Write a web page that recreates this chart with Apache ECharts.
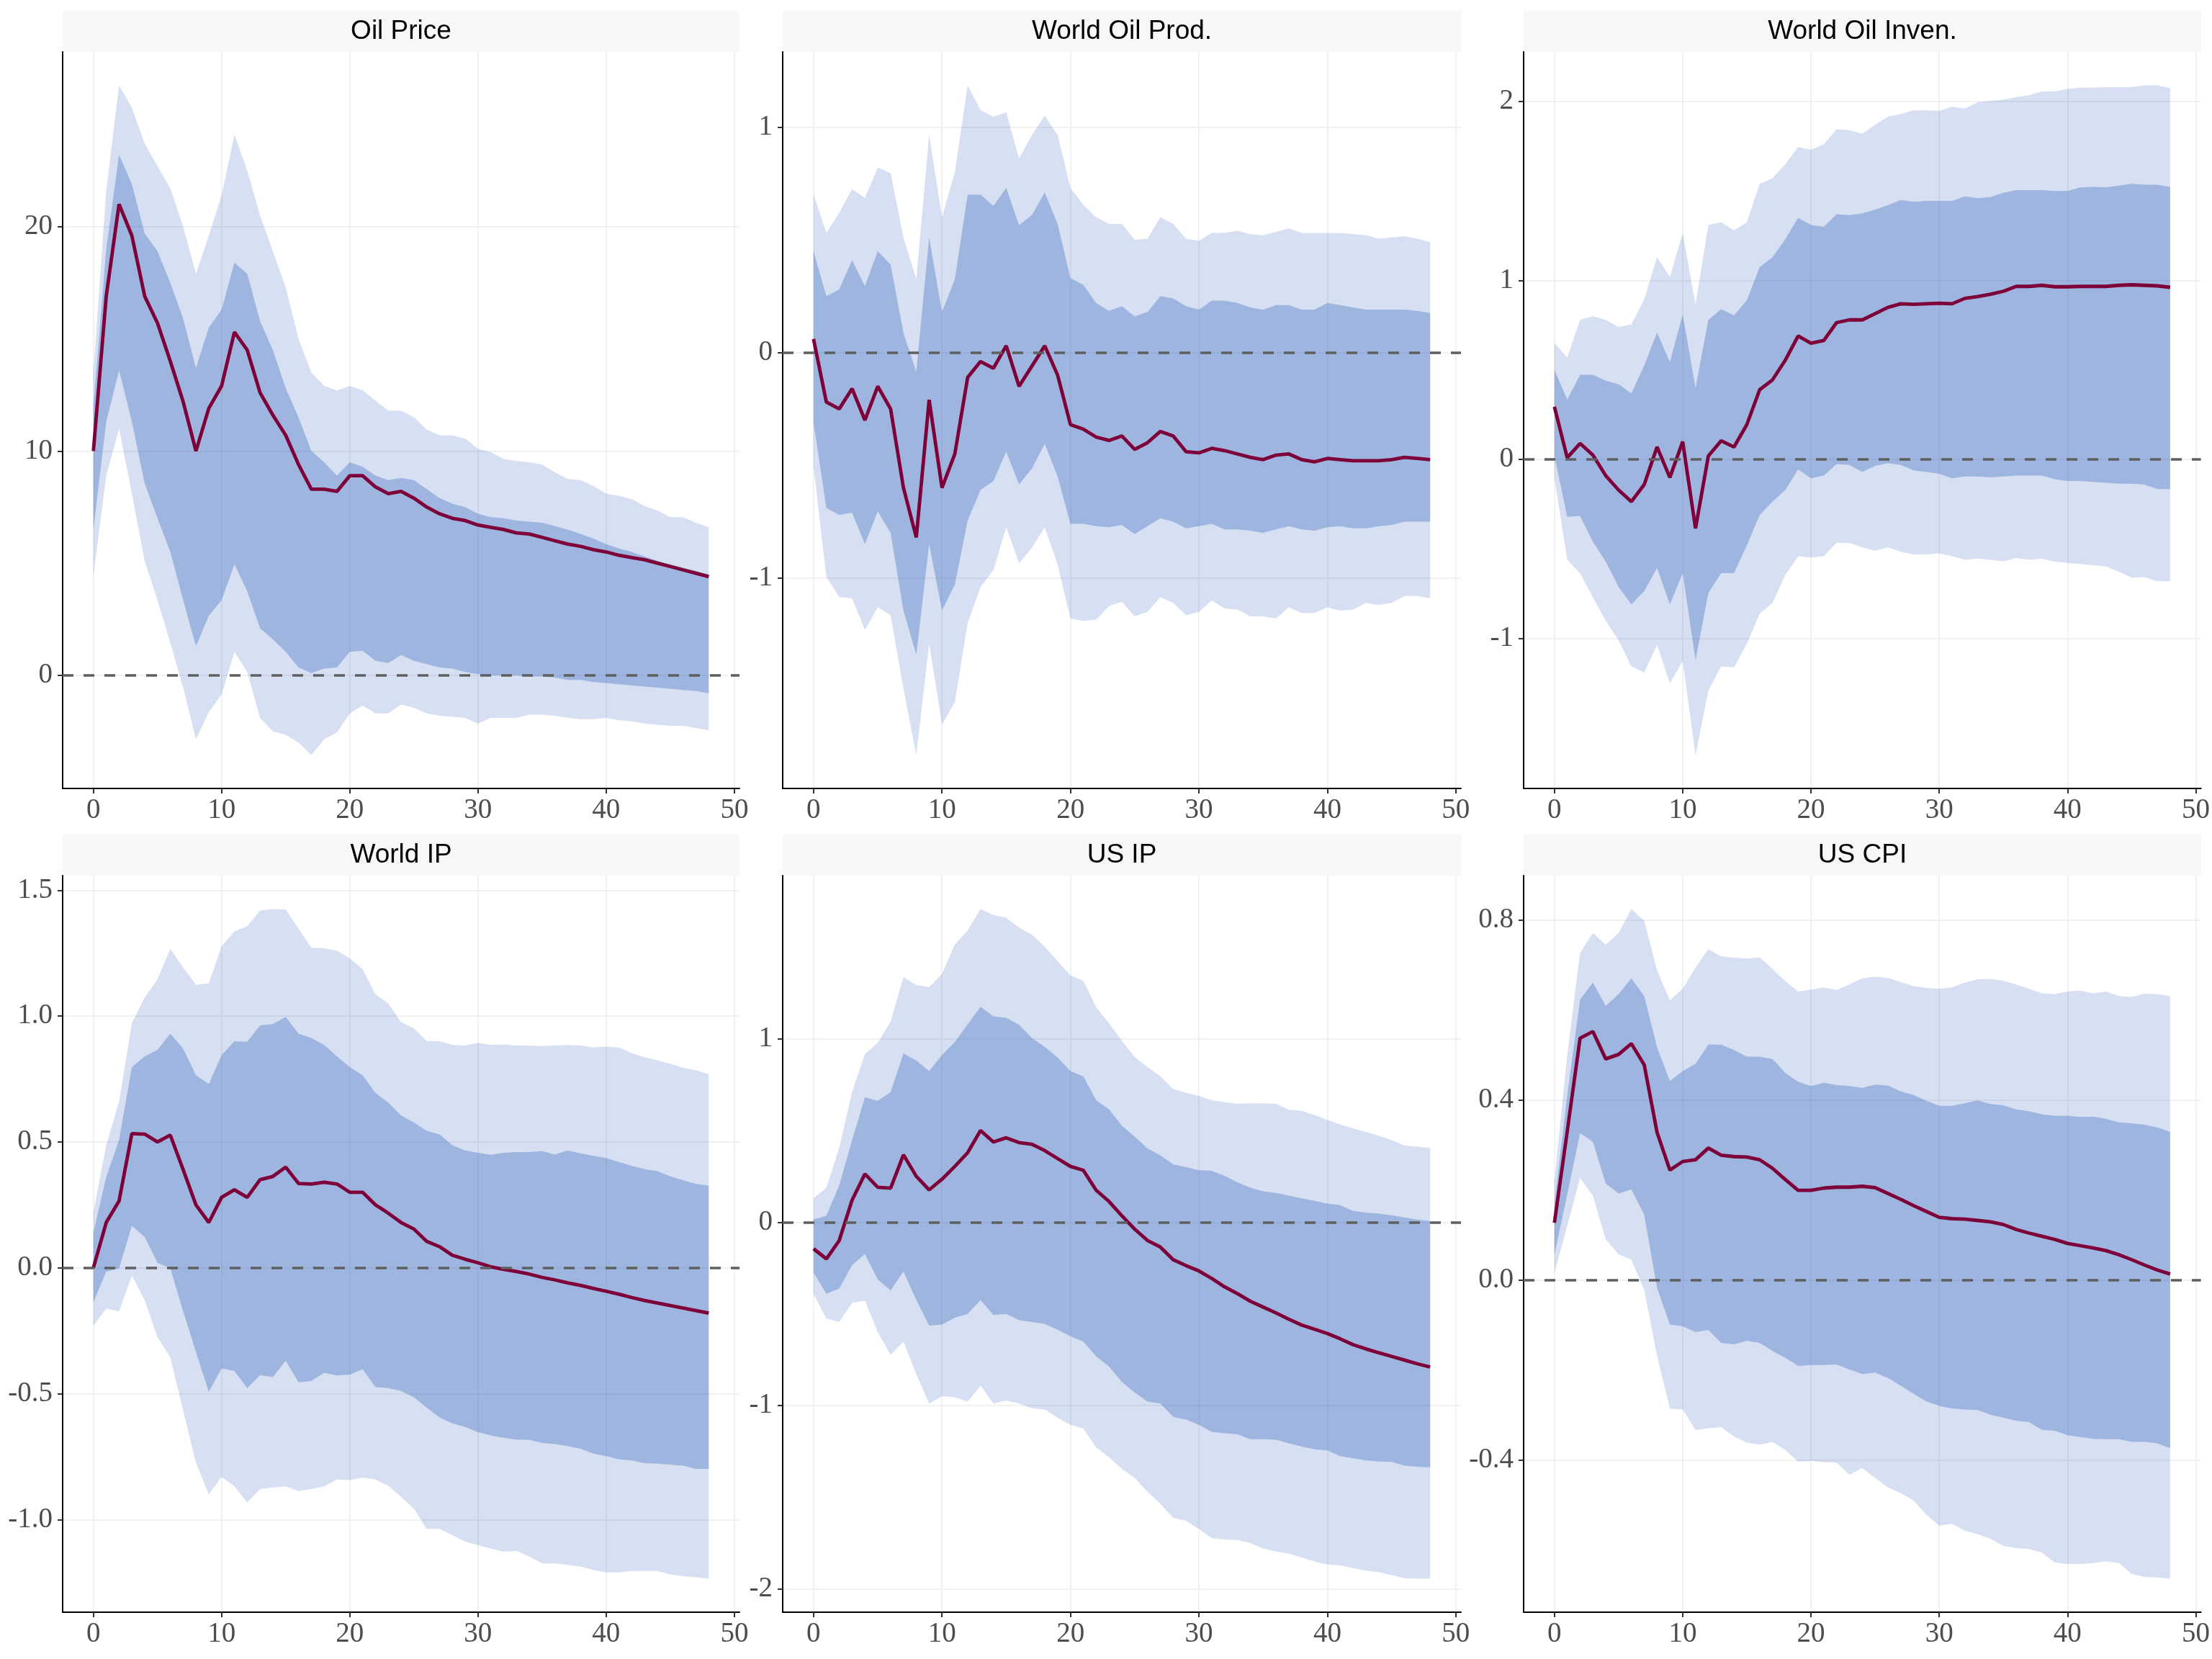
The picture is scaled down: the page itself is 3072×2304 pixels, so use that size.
<!DOCTYPE html>
<html><head><meta charset="utf-8">
<script src="https://cdn.jsdelivr.net/npm/echarts@6/dist/echarts.min.js"></script>
<style>html,body{margin:0;padding:0;background:#fff}#c{width:3072px;height:2304px}</style>
</head><body><div id="c"></div>
<script>
const horizons = [0,1,2,3,4,5,6,7,8,9,10,11,12,13,14,15,16,17,18,19,20,21,22,23,24,25,26,27,28,29,30,31,32,33,34,35,36,37,38,39,40,41,42,43,44,45,46,47,48];
const xTicks = [0,10,20,30,40,50];
const titles = ['Oil Price','World Oil Prod.','World Oil Inven.','World IP','US IP','US CPI'];

// Oil Price
const oilPriceMed = [10.0,16.9,21.0,19.6,16.9,15.7,14.0,12.2,10.0,11.9,
12.9,15.3,14.5,12.6,11.6,10.7,9.4,8.3,8.3,8.2,
8.9,8.9,8.4,8.1,8.2,7.9,7.5,7.2,7.0,6.9,
6.7,6.6,6.5,6.35,6.3,6.15,6.0,5.85,5.75,5.6,
5.5,5.35,5.25,5.15,5.0,4.85,4.7,4.55,4.4];
const oilPriceInHi = [12.0,19.0,23.2,21.9,19.7,18.9,17.5,15.9,13.7,15.5,
16.3,18.4,17.9,15.8,14.5,12.8,11.5,10.0,9.5,8.9,
9.5,9.3,8.9,8.7,8.8,8.7,8.3,7.9,7.65,7.5,
7.2,7.05,7.0,6.9,6.85,6.8,6.65,6.5,6.3,6.1,
5.85,5.65,5.5,5.3,5.1,4.95,4.8,4.65,4.5];
const oilPriceInLo = [6.5,11.3,13.6,11.3,8.55,7.0,5.5,3.35,1.3,2.65,
3.35,4.95,3.75,2.1,1.6,1.05,0.35,0.1,0.3,0.35,
1.05,1.1,0.65,0.55,0.9,0.65,0.5,0.35,0.3,0.15,
0.05,0.0,0.0,0.0,-0.05,-0.05,-0.1,-0.2,-0.2,-0.3,
-0.35,-0.4,-0.45,-0.5,-0.55,-0.6,-0.65,-0.7,-0.8];
const oilPriceOutHi = [13.5,21.6,26.3,25.3,23.7,22.7,21.7,20.0,17.9,19.6,
21.4,24.1,22.5,20.5,18.9,17.3,15.0,13.5,12.9,12.7,
12.9,12.7,12.25,11.8,11.8,11.5,10.95,10.7,10.7,10.55,
10.1,9.95,9.65,9.55,9.5,9.4,9.05,8.75,8.7,8.45,
8.1,8.0,7.85,7.55,7.35,7.05,7.05,6.8,6.6];
const oilPriceOutLo = [4.45,8.9,11.0,8.1,5.1,3.35,1.45,-0.55,-2.85,-1.65,
-0.85,1.05,0.15,-1.9,-2.5,-2.65,-3.0,-3.55,-2.85,-2.55,
-1.7,-1.35,-1.7,-1.7,-1.3,-1.45,-1.7,-1.8,-1.85,-1.9,
-2.15,-1.9,-1.9,-1.9,-1.75,-1.75,-1.8,-1.9,-1.95,-1.95,
-1.9,-2.0,-2.05,-2.15,-2.2,-2.25,-2.25,-2.35,-2.45];

// World Oil Prod.
const oilProdMed = [0.06,-0.22,-0.25,-0.16,-0.30,-0.15,-0.25,-0.60,-0.82,-0.21,
-0.60,-0.45,-0.11,-0.04,-0.07,0.03,-0.15,-0.06,0.03,-0.10,
-0.32,-0.34,-0.375,-0.39,-0.37,-0.43,-0.40,-0.35,-0.37,-0.44,
-0.445,-0.425,-0.435,-0.45,-0.465,-0.475,-0.455,-0.45,-0.475,-0.485,
-0.47,-0.475,-0.48,-0.48,-0.48,-0.475,-0.465,-0.47,-0.475];
const oilProdInHi = [0.45,0.25,0.28,0.41,0.295,0.45,0.39,0.087,-0.085,0.51,
0.18,0.325,0.70,0.70,0.65,0.73,0.565,0.61,0.71,0.57,
0.33,0.30,0.22,0.185,0.205,0.16,0.18,0.25,0.24,0.205,
0.19,0.23,0.23,0.22,0.20,0.19,0.21,0.21,0.19,0.19,
0.22,0.21,0.20,0.19,0.19,0.19,0.19,0.185,0.175];
const oilProdInLo = [-0.31,-0.69,-0.72,-0.71,-0.85,-0.705,-0.80,-1.145,-1.34,-0.85,
-1.145,-1.03,-0.745,-0.61,-0.57,-0.44,-0.585,-0.515,-0.405,-0.55,
-0.76,-0.76,-0.77,-0.775,-0.765,-0.805,-0.77,-0.735,-0.75,-0.78,
-0.77,-0.76,-0.785,-0.785,-0.79,-0.80,-0.785,-0.77,-0.785,-0.79,
-0.775,-0.77,-0.78,-0.78,-0.77,-0.765,-0.75,-0.75,-0.75];
const oilProdOutHi = [0.70,0.53,0.62,0.725,0.685,0.82,0.795,0.51,0.325,0.965,
0.60,0.80,1.185,1.075,1.045,1.065,0.86,0.965,1.05,0.965,
0.73,0.655,0.60,0.57,0.57,0.50,0.505,0.60,0.57,0.505,
0.495,0.53,0.53,0.54,0.525,0.52,0.535,0.55,0.53,0.53,
0.53,0.53,0.525,0.52,0.505,0.51,0.515,0.505,0.49];
const oilProdOutLo = [-0.505,-0.995,-1.085,-1.09,-1.23,-1.13,-1.165,-1.49,-1.785,-1.29,
-1.65,-1.55,-1.20,-1.04,-0.965,-0.775,-0.935,-0.865,-0.775,-0.94,
-1.18,-1.19,-1.185,-1.125,-1.105,-1.17,-1.15,-1.085,-1.11,-1.165,
-1.15,-1.10,-1.135,-1.14,-1.17,-1.17,-1.18,-1.13,-1.155,-1.155,
-1.13,-1.145,-1.14,-1.11,-1.12,-1.11,-1.08,-1.08,-1.09];

// World Oil Inven.
const oilInvMed = [0.295,0.01,0.09,0.025,-0.09,-0.17,-0.235,-0.14,0.07,-0.10,
0.10,-0.385,0.02,0.105,0.07,0.195,0.39,0.445,0.555,0.69,
0.65,0.665,0.765,0.78,0.78,0.815,0.85,0.87,0.867,0.87,
0.873,0.87,0.90,0.91,0.923,0.94,0.967,0.967,0.973,0.965,
0.965,0.967,0.967,0.967,0.973,0.976,0.973,0.97,0.962];
const oilInvInHi = [0.50,0.335,0.473,0.473,0.44,0.42,0.37,0.525,0.71,0.545,
0.81,0.40,0.78,0.84,0.805,0.89,1.075,1.13,1.23,1.35,
1.31,1.30,1.37,1.365,1.375,1.395,1.42,1.45,1.44,1.445,
1.445,1.445,1.47,1.46,1.467,1.49,1.505,1.505,1.505,1.50,
1.50,1.52,1.523,1.52,1.53,1.54,1.535,1.535,1.523];
const oilInvInLo = [0.02,-0.32,-0.315,-0.46,-0.57,-0.71,-0.81,-0.735,-0.605,-0.81,
-0.635,-1.12,-0.745,-0.635,-0.635,-0.48,-0.31,-0.235,-0.17,-0.055,
-0.105,-0.09,-0.025,-0.03,-0.07,-0.035,-0.02,-0.03,-0.06,-0.07,
-0.08,-0.105,-0.095,-0.095,-0.10,-0.095,-0.09,-0.09,-0.09,-0.11,
-0.12,-0.12,-0.125,-0.13,-0.135,-0.135,-0.14,-0.165,-0.165];
const oilInvOutHi = [0.65,0.57,0.78,0.80,0.78,0.74,0.755,0.895,1.13,1.02,
1.265,0.865,1.31,1.325,1.28,1.325,1.54,1.57,1.65,1.745,
1.73,1.76,1.845,1.84,1.82,1.87,1.915,1.93,1.95,1.95,
1.947,1.97,1.96,1.995,2.003,2.01,2.024,2.035,2.056,2.056,
2.07,2.077,2.077,2.08,2.08,2.08,2.09,2.09,2.074];
const oilInvOutLo = [-0.105,-0.56,-0.635,-0.77,-0.90,-1.01,-1.155,-1.19,-1.035,-1.25,
-1.125,-1.65,-1.29,-1.155,-1.16,-1.03,-0.86,-0.80,-0.645,-0.54,
-0.547,-0.54,-0.465,-0.467,-0.49,-0.51,-0.49,-0.515,-0.53,-0.53,
-0.524,-0.54,-0.56,-0.553,-0.56,-0.568,-0.55,-0.56,-0.553,-0.57,
-0.577,-0.583,-0.59,-0.597,-0.627,-0.66,-0.657,-0.68,-0.68];

// World IP
const worldIpMed = [0.0,0.18,0.265,0.533,0.531,0.50,0.527,0.39,0.25,0.18,
0.28,0.31,0.28,0.35,0.363,0.40,0.335,0.333,0.34,0.333,
0.30,0.30,0.25,0.217,0.18,0.154,0.105,0.084,0.05,0.034,
0.02,0.004,-0.006,-0.015,-0.025,-0.038,-0.048,-0.06,-0.07,-0.082,
-0.093,-0.105,-0.118,-0.13,-0.14,-0.15,-0.16,-0.17,-0.18];
const worldIpInHi = [0.14,0.36,0.508,0.797,0.84,0.866,0.93,0.87,0.765,0.73,
0.845,0.90,0.898,0.963,0.968,0.997,0.93,0.913,0.885,0.84,
0.797,0.765,0.694,0.656,0.605,0.578,0.544,0.53,0.487,0.466,
0.457,0.449,0.457,0.46,0.46,0.464,0.45,0.466,0.455,0.445,
0.436,0.42,0.405,0.392,0.384,0.363,0.348,0.333,0.327];
const worldIpInLo = [-0.137,-0.015,-0.002,0.167,0.122,0.02,-0.002,-0.173,-0.335,-0.493,
-0.40,-0.41,-0.478,-0.426,-0.434,-0.369,-0.455,-0.449,-0.417,-0.428,
-0.424,-0.403,-0.474,-0.478,-0.489,-0.514,-0.556,-0.594,-0.618,-0.632,
-0.653,-0.666,-0.675,-0.683,-0.683,-0.696,-0.70,-0.708,-0.719,-0.738,
-0.748,-0.761,-0.765,-0.776,-0.778,-0.782,-0.786,-0.799,-0.799];
const worldIpOutHi = [0.22,0.487,0.66,0.972,1.073,1.147,1.267,1.193,1.124,1.13,
1.277,1.336,1.357,1.419,1.425,1.423,1.347,1.271,1.269,1.26,
1.229,1.187,1.086,1.05,0.976,0.951,0.90,0.90,0.885,0.883,
0.894,0.885,0.887,0.883,0.883,0.881,0.883,0.885,0.883,0.875,
0.879,0.875,0.852,0.837,0.824,0.81,0.795,0.784,0.769];
const worldIpOutLo = [-0.23,-0.162,-0.173,-0.03,-0.129,-0.276,-0.356,-0.567,-0.774,-0.90,
-0.83,-0.868,-0.932,-0.879,-0.873,-0.868,-0.887,-0.879,-0.868,-0.841,
-0.843,-0.833,-0.841,-0.866,-0.91,-0.957,-1.037,-1.037,-1.062,-1.088,
-1.102,-1.115,-1.128,-1.124,-1.147,-1.174,-1.174,-1.18,-1.187,-1.20,
-1.21,-1.21,-1.204,-1.204,-1.204,-1.218,-1.225,-1.229,-1.235];

// US IP
const usIpMed = [-0.145,-0.20,-0.10,0.12,0.263,0.19,0.185,0.367,0.25,0.176,
0.234,0.304,0.379,0.50,0.437,0.46,0.434,0.425,0.39,0.347,
0.304,0.283,0.174,0.113,0.035,-0.038,-0.10,-0.136,-0.205,-0.237,
-0.266,-0.307,-0.353,-0.39,-0.431,-0.463,-0.495,-0.529,-0.561,-0.584,
-0.607,-0.636,-0.668,-0.691,-0.712,-0.732,-0.752,-0.772,-0.79];
const usIpInHi = [0.015,0.035,0.20,0.448,0.68,0.662,0.709,0.92,0.882,0.824,
0.911,0.983,1.079,1.174,1.122,1.114,1.076,1.004,0.955,0.897,
0.824,0.795,0.665,0.616,0.526,0.466,0.402,0.364,0.315,0.30,
0.283,0.28,0.252,0.217,0.188,0.168,0.159,0.145,0.13,0.116,
0.101,0.093,0.061,0.052,0.046,0.038,0.026,0.014,0.006];
const usIpInLo = [-0.275,-0.39,-0.362,-0.234,-0.174,-0.312,-0.373,-0.269,-0.425,-0.564,
-0.558,-0.521,-0.50,-0.425,-0.506,-0.50,-0.535,-0.544,-0.555,-0.587,
-0.622,-0.651,-0.732,-0.787,-0.871,-0.929,-0.978,-0.989,-1.062,-1.076,
-1.105,-1.143,-1.151,-1.157,-1.183,-1.183,-1.186,-1.206,-1.224,-1.238,
-1.244,-1.276,-1.287,-1.299,-1.305,-1.307,-1.328,-1.334,-1.336];
const usIpOutHi = [0.13,0.188,0.405,0.709,0.917,0.978,1.093,1.336,1.293,1.281,
1.354,1.513,1.591,1.707,1.675,1.66,1.605,1.568,1.501,1.423,
1.345,1.316,1.172,1.085,0.989,0.90,0.845,0.795,0.726,0.706,
0.688,0.665,0.654,0.645,0.648,0.648,0.645,0.613,0.607,0.584,
0.558,0.532,0.512,0.492,0.471,0.448,0.417,0.411,0.405];
const usIpOutLo = [-0.39,-0.526,-0.544,-0.44,-0.428,-0.599,-0.723,-0.651,-0.83,-0.989,
-0.949,-0.955,-0.978,-0.891,-0.989,-0.972,-0.989,-1.015,-1.021,-1.067,
-1.105,-1.125,-1.229,-1.282,-1.345,-1.394,-1.47,-1.536,-1.612,-1.629,
-1.673,-1.722,-1.73,-1.733,-1.75,-1.779,-1.796,-1.808,-1.828,-1.851,
-1.866,-1.871,-1.886,-1.90,-1.909,-1.924,-1.941,-1.944,-1.944];

// US CPI
const usCpiMed = [0.127,0.33,0.537,0.552,0.491,0.501,0.525,0.478,0.328,0.244,
0.263,0.267,0.293,0.277,0.274,0.273,0.267,0.248,0.223,0.199,
0.199,0.204,0.206,0.206,0.208,0.205,0.192,0.179,0.165,0.152,
0.139,0.136,0.135,0.132,0.129,0.123,0.112,0.104,0.097,0.09,
0.081,0.076,0.071,0.065,0.056,0.045,0.033,0.022,0.013];
const usCpiInHi = [0.17,0.41,0.623,0.661,0.609,0.635,0.67,0.631,0.517,0.442,
0.464,0.48,0.523,0.523,0.511,0.496,0.496,0.491,0.46,0.44,
0.431,0.438,0.433,0.431,0.427,0.434,0.432,0.419,0.411,0.398,
0.387,0.387,0.393,0.399,0.391,0.388,0.379,0.375,0.368,0.365,
0.365,0.362,0.363,0.358,0.35,0.348,0.345,0.339,0.329];
const usCpiInLo = [0.056,0.19,0.326,0.307,0.214,0.192,0.201,0.145,-0.018,-0.099,
-0.103,-0.116,-0.111,-0.14,-0.143,-0.135,-0.14,-0.158,-0.173,-0.191,
-0.189,-0.189,-0.188,-0.199,-0.209,-0.206,-0.218,-0.235,-0.253,-0.27,
-0.28,-0.286,-0.288,-0.289,-0.30,-0.306,-0.313,-0.316,-0.333,-0.335,
-0.345,-0.349,-0.353,-0.354,-0.354,-0.36,-0.36,-0.363,-0.374];
const usCpiOutHi = [0.22,0.5,0.727,0.771,0.745,0.771,0.824,0.798,0.688,0.621,
0.647,0.694,0.735,0.719,0.716,0.714,0.717,0.691,0.664,0.641,
0.645,0.65,0.644,0.657,0.67,0.674,0.671,0.662,0.653,0.649,
0.647,0.65,0.661,0.668,0.669,0.665,0.656,0.647,0.637,0.635,
0.641,0.643,0.637,0.641,0.631,0.629,0.636,0.635,0.631];
const usCpiOutLo = [0.016,0.12,0.227,0.187,0.09,0.057,0.045,-0.022,-0.168,-0.286,
-0.288,-0.333,-0.33,-0.327,-0.348,-0.362,-0.366,-0.36,-0.378,-0.404,
-0.402,-0.405,-0.406,-0.433,-0.418,-0.44,-0.461,-0.474,-0.49,-0.522,
-0.546,-0.542,-0.557,-0.565,-0.575,-0.591,-0.596,-0.598,-0.606,-0.628,
-0.631,-0.631,-0.629,-0.625,-0.629,-0.653,-0.66,-0.661,-0.664];

// y tick labels
const oilPriceTicks = [0,10,20];
const oilProdTicks = [-1,0,1];
const oilInvTicks = [-1,0,1,2];
const worldIpTicks = [-1.0,-0.5,0.0,0.5,1.0,1.5];
const usIpTicks = [-2,-1,0,1];
const usCpiTicks = [-0.4,0.0,0.4,0.8];

const panels = [
  {med:oilPriceMed, inHi:oilPriceInHi, inLo:oilPriceInLo, outHi:oilPriceOutHi, outLo:oilPriceOutLo, ticks:oilPriceTicks, dec:0},
  {med:oilProdMed, inHi:oilProdInHi, inLo:oilProdInLo, outHi:oilProdOutHi, outLo:oilProdOutLo, ticks:oilProdTicks, dec:0},
  {med:oilInvMed, inHi:oilInvInHi, inLo:oilInvInLo, outHi:oilInvOutHi, outLo:oilInvOutLo, ticks:oilInvTicks, dec:0},
  {med:worldIpMed, inHi:worldIpInHi, inLo:worldIpInLo, outHi:worldIpOutHi, outLo:worldIpOutLo, ticks:worldIpTicks, dec:1},
  {med:usIpMed, inHi:usIpInHi, inLo:usIpInLo, outHi:usIpOutHi, outLo:usIpOutLo, ticks:usIpTicks, dec:0},
  {med:usCpiMed, inHi:usCpiInHi, inLo:usCpiInLo, outHi:usCpiOutHi, outLo:usCpiOutLo, ticks:usCpiTicks, dec:1}
];

const layout = [[87,72,940],[1087,72,942],[2116,72,941],[87,1216,940],[1087,1216,942],[2116,1216,941]];
const PH = 1023, STRIP = 57;
const serif = '"Liberation Serif", "DejaVu Serif", serif';
const sans = '"Liberation Sans", Arial, sans-serif';

function bandRenderer(color) {
  return function (params, api) {
    if (params.dataIndexInside !== 0) return null;
    const n = params.dataInsideLength;
    const top = [], bot = [];
    for (let j = 0; j < n; j++) {
      const x = api.value(0, j);
      bot.push(api.coord([x, api.value(1, j)]));
      top.push(api.coord([x, api.value(2, j)]));
    }
    return {type: 'polygon', silent: true, shape: {points: top.concat(bot.reverse())}, style: {fill: color}};
  };
}

const grid = [], xAxis = [], yAxis = [], series = [], graphic = [];
panels.forEach((p, k) => {
  const [L, T, W] = layout[k];
  grid.push({left: L, top: T, width: W, height: PH, containLabel: false});
  const all = p.outLo.concat(p.outHi, p.inLo, p.inHi, p.med, [0]);
  const mn = Math.min(...all), mx = Math.max(...all), pad = (mx - mn) * 0.05;
  xAxis.push({
    type: 'value', gridIndex: k, min: -2.4, max: 50.4,
    axisLine: {show: true, onZero: false, lineStyle: {color: '#000', width: 2}},
    axisTick: {show: true, customValues: xTicks, length: 7, lineStyle: {color: '#333', width: 2}},
    axisLabel: {customValues: xTicks, color: '#4d4d4d', fontFamily: serif, fontSize: 39, margin: 11},
    splitLine: {show: true, lineStyle: {color: '#ededed', width: 1.5}}
  });
  yAxis.push({
    type: 'value', gridIndex: k, min: mn - pad, max: mx + pad,
    axisLine: {show: true, onZero: false, lineStyle: {color: '#000', width: 2}},
    axisTick: {show: true, customValues: p.ticks, length: 7, lineStyle: {color: '#333', width: 2}},
    axisLabel: {customValues: p.ticks, color: '#4d4d4d', fontFamily: serif, fontSize: 39, margin: 14,
      formatter: v => Number(v).toFixed(p.dec)},
    splitLine: {show: true, lineStyle: {color: '#ededed', width: 1.5}}
  });
  const rows = (lo, hi) => lo.map((v, i) => [horizons[i], v, hi[i]]);
  series.push({type: 'custom', xAxisIndex: k, yAxisIndex: k, silent: true, animation: false, z: 1,
    encode: {x: 0, y: [1, 2]}, data: rows(p.outLo, p.outHi), renderItem: bandRenderer('rgba(50,100,190,0.2)')});
  series.push({type: 'custom', xAxisIndex: k, yAxisIndex: k, silent: true, animation: false, z: 2,
    encode: {x: 0, y: [1, 2]}, data: rows(p.inLo, p.inHi), renderItem: bandRenderer('rgba(50,100,190,0.34)')});
  series.push({type: 'line', xAxisIndex: k, yAxisIndex: k, symbol: 'none', silent: true, animation: false,
    data: p.med.map((v, i) => [horizons[i], v]), lineStyle: {color: '#7e0038', width: 4.8}, z: 4,
    markLine: {silent: true, symbol: 'none', animation: false, label: {show: false},
      lineStyle: {color: '#5f5f5f', width: 3.5, type: [15, 14]}, data: [{yAxis: 0}]}});
  graphic.push({type: 'rect', silent: true, shape: {x: L, y: T - STRIP, width: W, height: STRIP}, style: {fill: '#f7f7f7'}});
  graphic.push({type: 'text', silent: true, x: L + W / 2, y: T - STRIP / 2,
    style: {text: titles[k], fill: '#000', font: '37px ' + sans, align: 'center', verticalAlign: 'middle',
      textAlign: 'center', textVerticalAlign: 'middle'}});
});

const chart = echarts.init(document.getElementById('c'), null, {width: 3072, height: 2304, renderer: 'canvas'});
chart.setOption({backgroundColor: '#fff', animation: false, grid, xAxis, yAxis, series, graphic});
</script>
</body></html>
